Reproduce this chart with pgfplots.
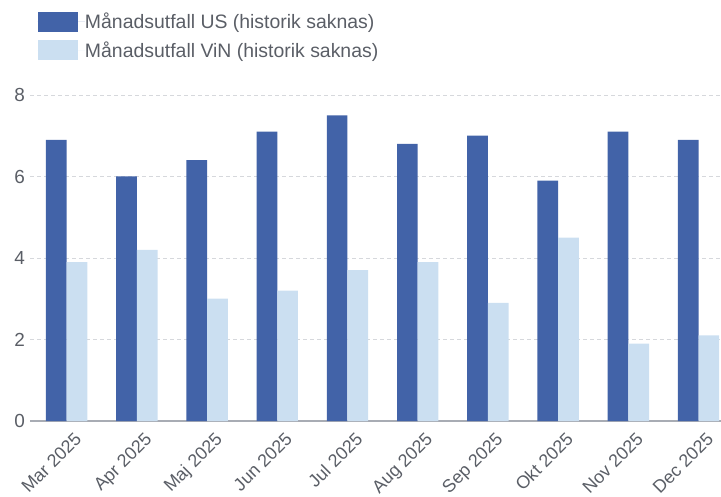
\documentclass[border=0pt]{standalone}
\usepackage{pgfplots}
\pgfplotsset{compat=1.18}
\usepackage{fontspec}
\setmainfont{Liberation Sans}
\definecolor{usblue}{HTML}{4263A8}
\definecolor{vinblue}{HTML}{CBDFF1}
\definecolor{txtgray}{HTML}{5A5E66}
\definecolor{gridgray}{HTML}{D6D8DC}
\definecolor{basegray}{HTML}{A8ACB4}
\begin{document}
\begin{tikzpicture}
\path[use as bounding box] (-30bp,-76bp) rectangle (691bp,421bp);
\begin{axis}[
  at={(0,0)}, anchor=south west,
  scale only axis, width=691bp, height=326bp,
  xmin=-0.522, xmax=9.32, ymin=0, ymax=8,
  ybar=0pt, bar width=20.7bp,
  axis x line*=bottom, axis y line*=left,
  x axis line style={draw=basegray, line width=1.2bp, -},
  y axis line style={draw=none},
  major tick length=0pt,
  ymajorgrids,
  grid style={draw=gridgray, line width=0.8bp, dash pattern=on 4bp off 3bp},
  xtick={0,1,2,3,4,5,6,7,8,9},
  xticklabels={Mar 2025,Apr 2025,Maj 2025,Jun 2025,Jul 2025,Aug 2025,Sep 2025,Okt 2025,Nov 2025,Dec 2025},
  xticklabel style={font=\fontsize{18}{21}\selectfont, text=txtgray, inner sep=0pt, anchor=north east, xshift=7bp, yshift=-10bp, rotate=45},
  ytick={0,2,4,6,8},
  yticklabel style={font=\fontsize{19}{22}\selectfont, text=txtgray, inner sep=0pt, anchor=east, xshift=-5bp},
  /pgf/number format/assume math mode=true,
  clip=false,
  legend style={at={(rel axis cs:0.01114,1.2555)}, anchor=north west, draw=none, fill=none,
    inner sep=0pt, outer sep=0pt, row sep=8.3bp,
    nodes={inner sep=0pt, text=txtgray, font=\fontsize{19.5}{22}\selectfont}},
  legend cell align=left,
  legend image code/.code={\fill[#1] (0bp,-10bp) rectangle (40.6bp,10bp); \path (0bp,0bp) -- (47.3bp,0bp);},
]
\addplot[fill=usblue, draw=none] coordinates {
  (0,6.9) (1,6.0) (2,6.4) (3,7.1) (4,7.5) (5,6.8) (6,7.0) (7,5.9) (8,7.1) (9,6.9)};
\addplot[fill=vinblue, draw=none] coordinates {
  (0,3.9) (1,4.2) (2,3.0) (3,3.2) (4,3.7) (5,3.9) (6,2.9) (7,4.5) (8,1.9) (9,2.1)};
\legend{Månadsutfall US (historik saknas),Månadsutfall ViN (historik saknas)}
\end{axis}
\end{tikzpicture}
\end{document}
